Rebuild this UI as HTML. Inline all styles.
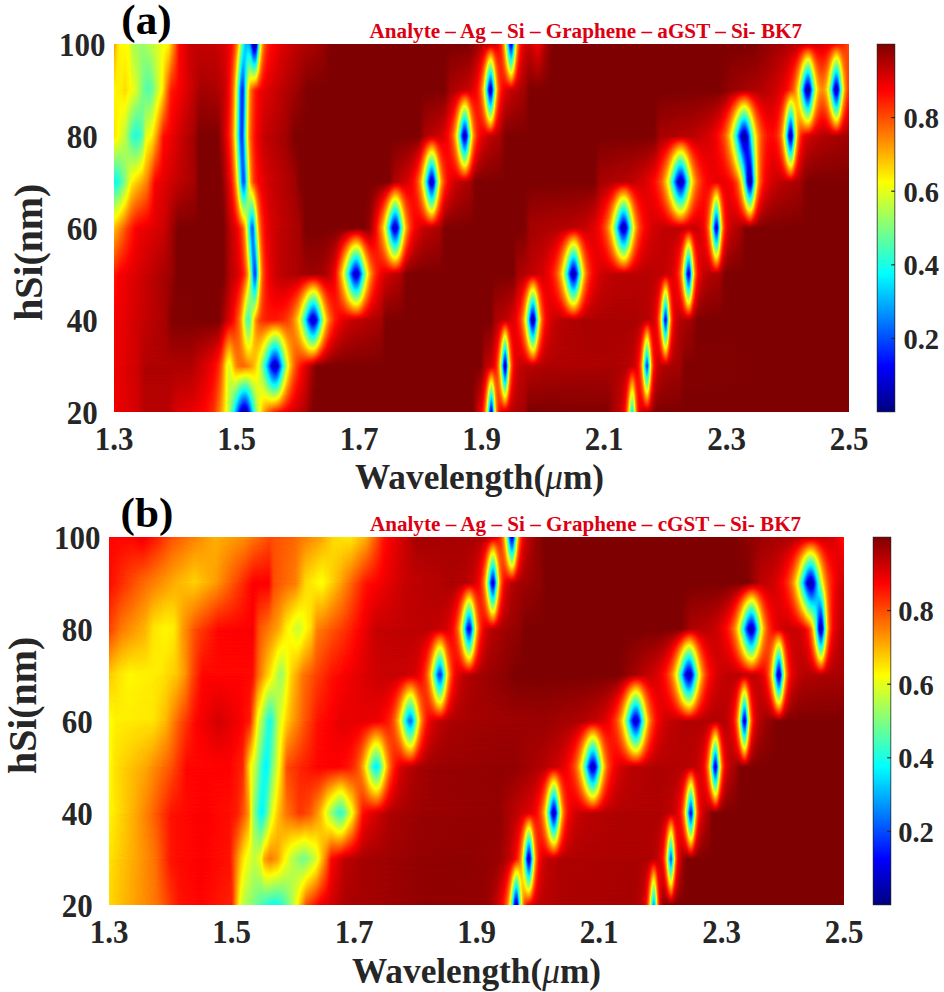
<!DOCTYPE html>
<html><head><meta charset="utf-8"><style>
html,body{margin:0;padding:0;background:#fff}
body{width:944px;height:992px;position:relative;overflow:hidden;font-family:"Liberation Serif",serif}
.pl{position:absolute;width:735px;height:368px;filter:url(#jet);overflow:hidden}
.bd{position:absolute;left:0;width:735px;height:46px}
.ov{position:absolute;left:0;top:0;width:100%;height:100%;-webkit-mask-image:linear-gradient(to bottom,#000,transparent);mask-image:linear-gradient(to bottom,#000,transparent)}
.cb{position:absolute;width:18px;height:368px;background:linear-gradient(to top,#000,#fff);filter:url(#jet)}
.a0{background:linear-gradient(to right,#e3e3e3 0px,#eaeaea 22.5px,#f1f1f1 31.5px,#f1f1f1 54.5px,#e9e9e9 62.5px,#e4e4e4 81.5px,#dedede 91.5px,#d6d6d6 98.5px,#d2d2d2 100.5px,#c0c0c0 105.5px,#b3b3b3 108.5px,#979797 113.5px,#8a8a8a 115.5px,#797979 117.5px,#666666 119.5px,#232323 125.5px,#1a1a1a 126.5px,#121212 127.5px,#0c0c0c 128.5px,#080808 129.5px,#070707 130.5px,#080808 131.5px,#0e0e0e 132.5px,#161616 133.5px,#212121 134.5px,#3b3b3b 136.5px,#646464 139.5px,#7b7b7b 141.5px,#8e8e8e 143.5px,#9d9d9d 145.5px,#afafaf 148.5px,#bdbdbd 151.5px,#cbcbcb 155.5px,#d7d7d7 160.5px,#dfdfdf 166.5px,#eaeaea 178.5px,#f3f3f3 191.5px,#ffffff 198.5px,#ffffff 358.5px,#f2f2f2 362.5px,#ebebeb 364.5px,#e5e5e5 366.5px,#e1e1e1 367.5px,#dbdbdb 368.5px,#d3d3d3 369.5px,#c8c8c8 370.5px,#b9b9b9 371.5px,#a4a4a4 372.5px,#888888 373.5px,#666666 374.5px,#404040 375.5px,#232323 376.5px,#191919 377.5px,#2d2d2d 378.5px,#828282 380.5px,#a3a3a3 381.5px,#bbbbbb 382.5px,#cbcbcb 383.5px,#d6d6d6 384.5px,#dddddd 385.5px,#e2e2e2 386.5px,#e9e9e9 388.5px,#eeeeee 391.5px,#f2f2f2 397.5px,#f6f6f6 410.5px,#f7f7f7 411.5px,#ffffff 414.5px,#fefefe 493.5px,#f3f3f3 501.5px,#efefef 505.5px,#ebebeb 507.5px,#e4e4e4 509.5px,#dfdfdf 510.5px,#d7d7d7 511.5px,#cdcdcd 512.5px,#bebebe 513.5px,#ababab 514.5px,#949494 515.5px,#7b7b7b 516.5px,#686868 517.5px,#636363 518.5px,#737373 519.5px,#acacac 521.5px,#c2c2c2 522.5px,#d2d2d2 523.5px,#dcdcdc 524.5px,#e3e3e3 525.5px,#e8e8e8 526.5px,#eeeeee 528.5px,#f2f2f2 531.5px,#f5f5f5 536.5px,#fefefe 541.5px,#ffffff 543.5px,#ffffff 735px)}
.a1{background:linear-gradient(to right,#e3e3e3 0px,#ebebeb 22.5px,#f3f3f3 31.5px,#f3f3f3 76.5px,#e9e9e9 90.5px,#e3e3e3 97.5px,#dddddd 101.5px,#d6d6d6 104.5px,#cecece 106.5px,#c2c2c2 108.5px,#a2a2a2 112.5px,#9c9c9c 113.5px,#989898 114.5px,#979797 115.5px,#9b9b9b 116.5px,#a8a8a8 118.5px,#b5b5b5 120.5px,#bebebe 122.5px,#c3c3c3 124.5px,#c6c6c6 127.5px,#c5c5c5 130.5px,#c0c0c0 134.5px,#b9b9b9 137.5px,#b0b0b0 140.5px,#a2a2a2 143.5px,#969696 145.5px,#878787 147.5px,#757575 149.5px,#606060 151.5px,#272727 156.5px,#1d1d1d 157.5px,#151515 158.5px,#0f0f0f 159.5px,#0c0c0c 160.5px,#0b0b0b 161.5px,#0e0e0e 162.5px,#161616 163.5px,#202020 164.5px,#2d2d2d 165.5px,#676767 169.5px,#818181 171.5px,#979797 173.5px,#a8a8a8 175.5px,#b6b6b6 177.5px,#c2c2c2 179.5px,#cfcfcf 182.5px,#dbdbdb 186.5px,#f6f6f6 198.5px,#fefefe 202.5px,#ffffff 204.5px,#ffffff 366.5px,#fafafa 368.5px,#f4f4f4 370.5px,#f1f1f1 372.5px,#ededed 376.5px,#e9e9e9 378.5px,#e2e2e2 380.5px,#dcdcdc 381.5px,#d5d5d5 382.5px,#cccccc 383.5px,#bfbfbf 384.5px,#adadad 385.5px,#959595 386.5px,#767676 387.5px,#2d2d2d 389.5px,#121212 390.5px,#0e0e0e 391.5px,#282828 392.5px,#7f7f7f 394.5px,#a1a1a1 395.5px,#b9b9b9 396.5px,#c9c9c9 397.5px,#d4d4d4 398.5px,#dcdcdc 399.5px,#e2e2e2 400.5px,#e8e8e8 402.5px,#ededed 405.5px,#f0f0f0 411.5px,#f3f3f3 431.5px,#f4f4f4 500.5px,#f2f2f2 513.5px,#efefef 518.5px,#e9e9e9 521.5px,#e2e2e2 523.5px,#dcdcdc 524.5px,#d5d5d5 525.5px,#cacaca 526.5px,#bbbbbb 527.5px,#a7a7a7 528.5px,#8c8c8c 529.5px,#4c4c4c 531.5px,#353535 532.5px,#343434 533.5px,#4e4e4e 534.5px,#757575 535.5px,#9a9a9a 536.5px,#b5b5b5 537.5px,#c9c9c9 538.5px,#d6d6d6 539.5px,#dedede 540.5px,#e4e4e4 541.5px,#e9e9e9 542.5px,#eeeeee 544.5px,#f2f2f2 548.5px,#f5f5f5 557.5px,#f6f6f6 565.5px,#f9f9f9 567.5px,#fefefe 570.5px,#ffffff 648.5px,#ffffff 735px)}
.a2{background:linear-gradient(to right,#e1e1e1 0px,#ededed 28.5px,#f5f5f5 51.5px,#fefefe 57.5px,#ffffff 87.5px,#ffffff 104.5px,#fcfcfc 106.5px,#e3e3e3 117.5px,#dadada 120.5px,#c8c8c8 124.5px,#c2c2c2 125.5px,#bbbbbb 126.5px,#b2b2b2 127.5px,#a8a8a8 128.5px,#848484 131.5px,#7a7a7a 132.5px,#727272 133.5px,#6f6f6f 134.5px,#737373 135.5px,#7d7d7d 136.5px,#a5a5a5 139.5px,#b0b0b0 140.5px,#b9b9b9 141.5px,#c0c0c0 142.5px,#cacaca 144.5px,#d1d1d1 146.5px,#d6d6d6 149.5px,#dadada 154.5px,#dadada 161.5px,#d6d6d6 168.5px,#d0d0d0 173.5px,#c9c9c9 176.5px,#bfbfbf 179.5px,#b6b6b6 181.5px,#ababab 183.5px,#9c9c9c 185.5px,#898989 187.5px,#737373 189.5px,#4b4b4b 192.5px,#303030 194.5px,#242424 195.5px,#1a1a1a 196.5px,#121212 197.5px,#0d0d0d 198.5px,#0c0c0c 199.5px,#0f0f0f 200.5px,#171717 201.5px,#222222 202.5px,#313131 203.5px,#727272 207.5px,#818181 208.5px,#8e8e8e 209.5px,#9a9a9a 210.5px,#a4a4a4 211.5px,#b6b6b6 213.5px,#c3c3c3 215.5px,#cccccc 217.5px,#d7d7d7 220.5px,#e0e0e0 224.5px,#e7e7e7 229.5px,#ededed 238.5px,#f3f3f3 257.5px,#f5f5f5 266.5px,#f8f8f8 268.5px,#ffffff 271.5px,#ffffff 376.5px,#fefefe 377.5px,#f6f6f6 380.5px,#f4f4f4 381.5px,#efefef 392.5px,#e8e8e8 398.5px,#e3e3e3 401.5px,#d9d9d9 404.5px,#d0d0d0 406.5px,#c9c9c9 407.5px,#c1c1c1 408.5px,#b7b7b7 409.5px,#ababab 410.5px,#9c9c9c 411.5px,#898989 412.5px,#747474 413.5px,#5b5b5b 414.5px,#282828 416.5px,#141414 417.5px,#090909 418.5px,#090909 419.5px,#191919 420.5px,#353535 421.5px,#545454 422.5px,#727272 423.5px,#8c8c8c 424.5px,#a2a2a2 425.5px,#b2b2b2 426.5px,#bfbfbf 427.5px,#cacaca 428.5px,#d1d1d1 429.5px,#d8d8d8 430.5px,#e0e0e0 432.5px,#e7e7e7 435.5px,#ececec 439.5px,#f1f1f1 447.5px,#f4f4f4 472.5px,#f4f4f4 519.5px,#f2f2f2 531.5px,#efefef 536.5px,#eaeaea 539.5px,#e3e3e3 541.5px,#dedede 542.5px,#d7d7d7 543.5px,#cdcdcd 544.5px,#c0c0c0 545.5px,#adadad 546.5px,#949494 547.5px,#747474 548.5px,#505050 549.5px,#2f2f2f 550.5px,#1e1e1e 551.5px,#292929 552.5px,#4e4e4e 553.5px,#7a7a7a 554.5px,#9e9e9e 555.5px,#b9b9b9 556.5px,#cbcbcb 557.5px,#d7d7d7 558.5px,#dfdfdf 559.5px,#e5e5e5 560.5px,#ececec 562.5px,#f1f1f1 565.5px,#f4f4f4 571.5px,#f6f6f6 576.5px,#ffffff 583.5px,#ffffff 735px)}
.a3{background:linear-gradient(to right,#d9d9d9 0px,#e1e1e1 6.5px,#f8f8f8 57.5px,#ffffff 62.5px,#ffffff 109.5px,#f1f1f1 116.5px,#ebebeb 122.5px,#e3e3e3 126.5px,#dddddd 128.5px,#d4d4d4 130.5px,#cdcdcd 131.5px,#c5c5c5 132.5px,#bbbbbb 133.5px,#adadad 134.5px,#9c9c9c 135.5px,#878787 136.5px,#6e6e6e 137.5px,#545454 138.5px,#3e3e3e 139.5px,#303030 140.5px,#313131 141.5px,#444444 142.5px,#7f7f7f 144.5px,#989898 145.5px,#acacac 146.5px,#bbbbbb 147.5px,#c6c6c6 148.5px,#cecece 149.5px,#d8d8d8 151.5px,#dedede 153.5px,#e5e5e5 156.5px,#ececec 162.5px,#f0f0f0 168.5px,#f8f8f8 196.5px,#f7f7f7 205.5px,#f4f4f4 211.5px,#eeeeee 215.5px,#e8e8e8 218.5px,#e2e2e2 220.5px,#dedede 221.5px,#cacaca 224.5px,#b9b9b9 226.5px,#a6a6a6 228.5px,#909090 230.5px,#777777 232.5px,#4d4d4d 235.5px,#313131 237.5px,#242424 238.5px,#1a1a1a 239.5px,#121212 240.5px,#0d0d0d 241.5px,#0c0c0c 242.5px,#101010 243.5px,#181818 244.5px,#252525 245.5px,#343434 246.5px,#666666 249.5px,#767676 250.5px,#858585 251.5px,#929292 252.5px,#9d9d9d 253.5px,#b1b1b1 255.5px,#c0c0c0 257.5px,#cbcbcb 259.5px,#d7d7d7 262.5px,#dfdfdf 265.5px,#e8e8e8 270.5px,#eeeeee 277.5px,#f2f2f2 285.5px,#f7f7f7 288.5px,#ffffff 292.5px,#ffffff 399.5px,#f5f5f5 403.5px,#f4f4f4 405.5px,#eeeeee 421.5px,#e9e9e9 429.5px,#e2e2e2 434.5px,#dadada 438.5px,#d0d0d0 441.5px,#c7c7c7 443.5px,#bababa 445.5px,#aaaaaa 447.5px,#9f9f9f 448.5px,#949494 449.5px,#878787 450.5px,#787878 451.5px,#565656 453.5px,#323232 455.5px,#222222 456.5px,#141414 457.5px,#0b0b0b 458.5px,#070707 459.5px,#0a0a0a 460.5px,#141414 461.5px,#242424 462.5px,#383838 463.5px,#646464 465.5px,#777777 466.5px,#898989 467.5px,#999999 468.5px,#a6a6a6 469.5px,#b1b1b1 470.5px,#bbbbbb 471.5px,#c3c3c3 472.5px,#cfcfcf 474.5px,#d8d8d8 476.5px,#e0e0e0 479.5px,#e7e7e7 483.5px,#ececec 489.5px,#f0f0f0 501.5px,#f1f1f1 532.5px,#efefef 549.5px,#ececec 555.5px,#e7e7e7 559.5px,#e2e2e2 561.5px,#dadada 563.5px,#d5d5d5 564.5px,#cecece 565.5px,#c4c4c4 566.5px,#b7b7b7 567.5px,#a7a7a7 568.5px,#929292 569.5px,#777777 570.5px,#3a3a3a 572.5px,#202020 573.5px,#141414 574.5px,#1c1c1c 575.5px,#393939 576.5px,#5e5e5e 577.5px,#828282 578.5px,#9f9f9f 579.5px,#b5b5b5 580.5px,#c5c5c5 581.5px,#d0d0d0 582.5px,#d9d9d9 583.5px,#dfdfdf 584.5px,#e7e7e7 586.5px,#ededed 589.5px,#f2f2f2 594.5px,#f5f5f5 605.5px,#fafafa 608.5px,#fefefe 610.5px,#ffffff 612.5px,#ffffff 735px)}
.a4{background:linear-gradient(to right,#afafaf 0px,#d2d2d2 14.5px,#dfdfdf 21.5px,#e2e2e2 25.5px,#ebebeb 49.5px,#f7f7f7 58.5px,#ffffff 63.5px,#ffffff 109.5px,#efefef 116.5px,#e7e7e7 121.5px,#dedede 124.5px,#d6d6d6 126.5px,#d1d1d1 127.5px,#cbcbcb 128.5px,#c3c3c3 129.5px,#b9b9b9 130.5px,#acacac 131.5px,#9c9c9c 132.5px,#898989 133.5px,#5d5d5d 135.5px,#494949 136.5px,#3c3c3c 137.5px,#383838 138.5px,#434343 139.5px,#595959 140.5px,#747474 141.5px,#8c8c8c 142.5px,#a1a1a1 143.5px,#b2b2b2 144.5px,#bfbfbf 145.5px,#c8c8c8 146.5px,#d0d0d0 147.5px,#d5d5d5 148.5px,#dddddd 150.5px,#e4e4e4 153.5px,#e9e9e9 157.5px,#efefef 167.5px,#f5f5f5 185.5px,#fafafa 188.5px,#ffffff 191.5px,#ffffff 250.5px,#f9f9f9 255.5px,#f3f3f3 257.5px,#e6e6e6 260.5px,#d7d7d7 263.5px,#bbbbbb 267.5px,#b3b3b3 268.5px,#a9a9a9 269.5px,#9e9e9e 270.5px,#929292 271.5px,#848484 272.5px,#747474 273.5px,#2f2f2f 277.5px,#202020 278.5px,#151515 279.5px,#0e0e0e 280.5px,#0c0c0c 281.5px,#121212 282.5px,#1e1e1e 283.5px,#2f2f2f 284.5px,#6d6d6d 287.5px,#808080 288.5px,#919191 289.5px,#9f9f9f 290.5px,#ababab 291.5px,#b6b6b6 292.5px,#bebebe 293.5px,#cccccc 295.5px,#d6d6d6 297.5px,#e0e0e0 300.5px,#e7e7e7 304.5px,#eeeeee 310.5px,#f3f3f3 321.5px,#f4f4f4 325.5px,#f8f8f8 327.5px,#ffffff 330.5px,#ffffff 410.5px,#fcfcfc 412.5px,#f6f6f6 415.5px,#f5f5f5 417.5px,#f1f1f1 457.5px,#ededed 471.5px,#e7e7e7 479.5px,#e0e0e0 484.5px,#d6d6d6 488.5px,#cbcbcb 491.5px,#c1c1c1 493.5px,#b3b3b3 495.5px,#a2a2a2 497.5px,#979797 498.5px,#8b8b8b 499.5px,#7e7e7e 500.5px,#5f5f5f 502.5px,#2e2e2e 505.5px,#1f1f1f 506.5px,#141414 507.5px,#0b0b0b 508.5px,#070707 509.5px,#090909 510.5px,#111111 511.5px,#1f1f1f 512.5px,#303030 513.5px,#6b6b6b 516.5px,#7d7d7d 517.5px,#8d8d8d 518.5px,#9b9b9b 519.5px,#a7a7a7 520.5px,#b1b1b1 521.5px,#bababa 522.5px,#c8c8c8 524.5px,#d2d2d2 526.5px,#dcdcdc 529.5px,#e4e4e4 533.5px,#eaeaea 539.5px,#eeeeee 549.5px,#f0f0f0 568.5px,#eeeeee 579.5px,#ebebeb 584.5px,#e6e6e6 587.5px,#e2e2e2 589.5px,#dadada 591.5px,#d4d4d4 592.5px,#cccccc 593.5px,#c2c2c2 594.5px,#b5b5b5 595.5px,#a3a3a3 596.5px,#8d8d8d 597.5px,#727272 598.5px,#343434 600.5px,#1c1c1c 601.5px,#131313 602.5px,#202020 603.5px,#404040 604.5px,#666666 605.5px,#898989 606.5px,#a4a4a4 607.5px,#b9b9b9 608.5px,#c8c8c8 609.5px,#d3d3d3 610.5px,#dbdbdb 611.5px,#e0e0e0 612.5px,#e8e8e8 614.5px,#eeeeee 617.5px,#f2f2f2 622.5px,#f5f5f5 626.5px,#ffffff 631.5px,#ffffff 735px)}
.a5{background:linear-gradient(to right,#626262 0px,#656565 3.5px,#6b6b6b 5.5px,#7e7e7e 10.5px,#888888 12.5px,#9e9e9e 16.5px,#a2a2a2 17.5px,#bebebe 32.5px,#c5c5c5 34.5px,#dedede 40.5px,#e1e1e1 41.5px,#f0f0f0 66.5px,#f6f6f6 80.5px,#fafafa 82.5px,#ffffff 84.5px,#ffffff 106.5px,#fcfcfc 108.5px,#f0f0f0 112.5px,#e4e4e4 115.5px,#dbdbdb 117.5px,#d5d5d5 118.5px,#cecece 119.5px,#c5c5c5 120.5px,#bababa 121.5px,#adadad 122.5px,#9e9e9e 123.5px,#8b8b8b 124.5px,#606060 126.5px,#4b4b4b 127.5px,#3b3b3b 128.5px,#343434 129.5px,#393939 130.5px,#4a4a4a 131.5px,#7c7c7c 133.5px,#939393 134.5px,#a6a6a6 135.5px,#b5b5b5 136.5px,#c0c0c0 137.5px,#c8c8c8 138.5px,#cfcfcf 139.5px,#d7d7d7 141.5px,#dfdfdf 144.5px,#e5e5e5 148.5px,#ececec 157.5px,#f6f6f6 180.5px,#fcfcfc 184.5px,#fefefe 185.5px,#ffffff 196.5px,#ffffff 274.5px,#fefefe 275.5px,#f4f4f4 280.5px,#f1f1f1 284.5px,#eaeaea 292.5px,#e4e4e4 296.5px,#dddddd 299.5px,#d6d6d6 301.5px,#cdcdcd 303.5px,#bfbfbf 305.5px,#b7b7b7 306.5px,#acacac 307.5px,#a0a0a0 308.5px,#929292 309.5px,#828282 310.5px,#6f6f6f 311.5px,#323232 314.5px,#202020 315.5px,#131313 316.5px,#0c0c0c 317.5px,#0f0f0f 318.5px,#1c1c1c 319.5px,#303030 320.5px,#626262 322.5px,#7a7a7a 323.5px,#8e8e8e 324.5px,#9f9f9f 325.5px,#aeaeae 326.5px,#b9b9b9 327.5px,#c2c2c2 328.5px,#cacaca 329.5px,#d5d5d5 331.5px,#dddddd 333.5px,#e4e4e4 336.5px,#ececec 341.5px,#f2f2f2 350.5px,#f4f4f4 355.5px,#f9f9f9 358.5px,#ffffff 361.5px,#ffffff 480.5px,#f6f6f6 485.5px,#f5f5f5 487.5px,#f0f0f0 516.5px,#eaeaea 528.5px,#e4e4e4 535.5px,#dddddd 540.5px,#d3d3d3 544.5px,#c8c8c8 547.5px,#bdbdbd 549.5px,#b0b0b0 551.5px,#a0a0a0 553.5px,#8b8b8b 555.5px,#727272 557.5px,#555555 559.5px,#373737 561.5px,#282828 562.5px,#1c1c1c 563.5px,#111111 564.5px,#0a0a0a 565.5px,#070707 566.5px,#080808 567.5px,#0f0f0f 568.5px,#1b1b1b 569.5px,#2a2a2a 570.5px,#5f5f5f 573.5px,#707070 574.5px,#808080 575.5px,#8e8e8e 576.5px,#9a9a9a 577.5px,#a5a5a5 578.5px,#aeaeae 579.5px,#bcbcbc 581.5px,#c7c7c7 583.5px,#d2d2d2 586.5px,#dadada 589.5px,#e1e1e1 594.5px,#e5e5e5 601.5px,#e5e5e5 609.5px,#e2e2e2 614.5px,#dcdcdc 618.5px,#d6d6d6 620.5px,#cecece 622.5px,#c9c9c9 623.5px,#c2c2c2 624.5px,#b9b9b9 625.5px,#afafaf 626.5px,#a3a3a3 627.5px,#939393 628.5px,#818181 629.5px,#6c6c6c 630.5px,#3b3b3b 632.5px,#242424 633.5px,#121212 634.5px,#080808 635.5px,#080808 636.5px,#171717 637.5px,#303030 638.5px,#6a6a6a 640.5px,#848484 641.5px,#999999 642.5px,#aaaaaa 643.5px,#b8b8b8 644.5px,#c2c2c2 645.5px,#cbcbcb 646.5px,#d1d1d1 647.5px,#dbdbdb 649.5px,#e3e3e3 652.5px,#eaeaea 657.5px,#efefef 665.5px,#f6f6f6 686.5px,#fefefe 691.5px,#ffffff 696.5px,#ffffff 735px)}
.a6{background:linear-gradient(to right,#a7a7a7 0px,#9d9d9d 5.5px,#8d8d8d 11.5px,#8a8a8a 12.5px,#757575 16.5px,#717171 17.5px,#676767 21.5px,#676767 22.5px,#727272 27.5px,#777777 28.5px,#949494 31.5px,#9a9a9a 32.5px,#a2a2a2 37.5px,#a5a5a5 38.5px,#c2c2c2 44.5px,#d8d8d8 48.5px,#dcdcdc 49.5px,#eeeeee 69.5px,#f6f6f6 80.5px,#ffffff 84.5px,#ffffff 103.5px,#fbfbfb 105.5px,#ececec 110.5px,#dcdcdc 114.5px,#d1d1d1 116.5px,#cacaca 117.5px,#c1c1c1 118.5px,#b6b6b6 119.5px,#a9a9a9 120.5px,#999999 121.5px,#878787 122.5px,#484848 125.5px,#383838 126.5px,#303030 127.5px,#333333 128.5px,#434343 129.5px,#5b5b5b 130.5px,#757575 131.5px,#8d8d8d 132.5px,#a1a1a1 133.5px,#b1b1b1 134.5px,#bdbdbd 135.5px,#c7c7c7 136.5px,#cecece 137.5px,#d3d3d3 138.5px,#dbdbdb 140.5px,#e3e3e3 143.5px,#ebebeb 148.5px,#efefef 153.5px,#f6f6f6 171.5px,#ffffff 180.5px,#ffffff 305.5px,#f5f5f5 310.5px,#f3f3f3 313.5px,#ededed 324.5px,#e8e8e8 329.5px,#e2e2e2 332.5px,#d9d9d9 335.5px,#d0d0d0 337.5px,#cacaca 338.5px,#c3c3c3 339.5px,#bababa 340.5px,#afafaf 341.5px,#a2a2a2 342.5px,#929292 343.5px,#808080 344.5px,#6b6b6b 345.5px,#3c3c3c 347.5px,#262626 348.5px,#161616 349.5px,#0d0d0d 350.5px,#0f0f0f 351.5px,#1d1d1d 352.5px,#363636 353.5px,#6d6d6d 355.5px,#868686 356.5px,#9b9b9b 357.5px,#ababab 358.5px,#b9b9b9 359.5px,#c3c3c3 360.5px,#cbcbcb 361.5px,#d2d2d2 362.5px,#dbdbdb 364.5px,#e4e4e4 367.5px,#ebebeb 371.5px,#f1f1f1 378.5px,#f4f4f4 385.5px,#fbfbfb 389.5px,#ffffff 391.5px,#ffffff 540.5px,#fafafa 543.5px,#f6f6f6 545.5px,#f5f5f5 547.5px,#f1f1f1 578.5px,#ebebeb 591.5px,#e6e6e6 598.5px,#dedede 603.5px,#d5d5d5 607.5px,#cbcbcb 610.5px,#c1c1c1 612.5px,#b5b5b5 614.5px,#a5a5a5 616.5px,#919191 618.5px,#797979 620.5px,#5c5c5c 622.5px,#2e2e2e 625.5px,#202020 626.5px,#141414 627.5px,#0b0b0b 628.5px,#060606 629.5px,#040404 630.5px,#080808 631.5px,#121212 632.5px,#202020 633.5px,#313131 634.5px,#686868 637.5px,#787878 638.5px,#878787 639.5px,#959595 640.5px,#a1a1a1 641.5px,#ababab 642.5px,#b3b3b3 643.5px,#c1c1c1 645.5px,#cbcbcb 647.5px,#d5d5d5 650.5px,#dbdbdb 653.5px,#dddddd 656.5px,#dddddd 659.5px,#d8d8d8 662.5px,#d1d1d1 664.5px,#cccccc 665.5px,#c5c5c5 666.5px,#bcbcbc 667.5px,#b1b1b1 668.5px,#a3a3a3 669.5px,#919191 670.5px,#7b7b7b 671.5px,#616161 672.5px,#292929 674.5px,#131313 675.5px,#0a0a0a 676.5px,#101010 677.5px,#282828 678.5px,#6c6c6c 680.5px,#8a8a8a 681.5px,#a1a1a1 682.5px,#b4b4b4 683.5px,#c1c1c1 684.5px,#cccccc 685.5px,#d4d4d4 686.5px,#d9d9d9 687.5px,#e1e1e1 689.5px,#e8e8e8 692.5px,#ededed 697.5px,#f2f2f2 708.5px,#f7f7f7 735px)}
.a7{background:linear-gradient(to right,#a1a1a1 0px,#a4a4a4 7.5px,#a8a8a8 10.5px,#a8a8a8 11.5px,#a0a0a0 16.5px,#959595 22.5px,#8b8b8b 25.5px,#7c7c7c 29.5px,#787878 31.5px,#737373 34.5px,#747474 35.5px,#7c7c7c 38.5px,#949494 44.5px,#9f9f9f 47.5px,#a4a4a4 48.5px,#bfbfbf 52.5px,#d6d6d6 56.5px,#d9d9d9 57.5px,#ececec 77.5px,#f6f6f6 86.5px,#f4f4f4 101.5px,#efefef 108.5px,#ebebeb 111.5px,#e1e1e1 114.5px,#d8d8d8 116.5px,#d1d1d1 117.5px,#cacaca 118.5px,#c0c0c0 119.5px,#b4b4b4 120.5px,#a6a6a6 121.5px,#949494 122.5px,#808080 123.5px,#525252 125.5px,#3d3d3d 126.5px,#2f2f2f 127.5px,#2b2b2b 128.5px,#343434 129.5px,#494949 130.5px,#7d7d7d 132.5px,#949494 133.5px,#a6a6a6 134.5px,#b4b4b4 135.5px,#bfbfbf 136.5px,#c7c7c7 137.5px,#d1d1d1 139.5px,#d9d9d9 141.5px,#dfdfdf 144.5px,#e5e5e5 149.5px,#f0f0f0 168.5px,#f7f7f7 182.5px,#ffffff 193.5px,#ffffff 330.5px,#fafafa 333.5px,#f5f5f5 336.5px,#efefef 350.5px,#ebebeb 356.5px,#e4e4e4 360.5px,#dfdfdf 362.5px,#d7d7d7 364.5px,#d1d1d1 365.5px,#cacaca 366.5px,#c1c1c1 367.5px,#b6b6b6 368.5px,#a8a8a8 369.5px,#959595 370.5px,#7f7f7f 371.5px,#646464 372.5px,#2b2b2b 374.5px,#151515 375.5px,#0c0c0c 376.5px,#151515 377.5px,#2f2f2f 378.5px,#747474 380.5px,#919191 381.5px,#a7a7a7 382.5px,#b8b8b8 383.5px,#c5c5c5 384.5px,#cecece 385.5px,#d5d5d5 386.5px,#dbdbdb 387.5px,#e2e2e2 389.5px,#e9e9e9 392.5px,#eeeeee 397.5px,#f6f6f6 410.5px,#ffffff 415.5px,#ffffff 605.5px,#f9f9f9 617.5px,#f1f1f1 651.5px,#ebebeb 662.5px,#e4e4e4 669.5px,#dddddd 673.5px,#d4d4d4 676.5px,#cdcdcd 678.5px,#c2c2c2 680.5px,#bbbbbb 681.5px,#b2b2b2 682.5px,#a8a8a8 683.5px,#9c9c9c 684.5px,#8e8e8e 685.5px,#7e7e7e 686.5px,#6b6b6b 687.5px,#2c2c2c 690.5px,#191919 691.5px,#0b0b0b 692.5px,#040404 693.5px,#050505 694.5px,#101010 695.5px,#242424 696.5px,#555555 698.5px,#6c6c6c 699.5px,#808080 700.5px,#909090 701.5px,#9d9d9d 702.5px,#a8a8a8 703.5px,#afafaf 704.5px,#b5b5b5 705.5px,#b9b9b9 706.5px,#bababa 707.5px,#bbbbbb 708.5px,#b9b9b9 709.5px,#b6b6b6 710.5px,#b1b1b1 711.5px,#ababab 712.5px,#a1a1a1 713.5px,#959595 714.5px,#868686 715.5px,#747474 716.5px,#5f5f5f 717.5px,#303030 719.5px,#1b1b1b 720.5px,#0d0d0d 721.5px,#080808 722.5px,#101010 723.5px,#252525 724.5px,#414141 725.5px,#5e5e5e 726.5px,#797979 727.5px,#909090 728.5px,#a2a2a2 729.5px,#b1b1b1 730.5px,#bcbcbc 731.5px,#c5c5c5 732.5px,#cccccc 733.5px,#d1d1d1 735px)}
.a8{background:linear-gradient(to right,#b9b9b9 0px,#acacac 2.5px,#a7a7a7 3.5px,#a2a2a2 5.5px,#a0a0a0 7.5px,#9e9e9e 14.5px,#9b9b9b 15.5px,#8f8f8f 17.5px,#8c8c8c 18.5px,#858585 27.5px,#868686 29.5px,#929292 39.5px,#a2a2a2 54.5px,#a6a6a6 55.5px,#c8c8c8 61.5px,#dadada 64.5px,#dedede 65.5px,#ededed 76.5px,#ededed 100.5px,#eaeaea 108.5px,#e6e6e6 113.5px,#e0e0e0 116.5px,#dadada 118.5px,#d1d1d1 120.5px,#cbcbcb 121.5px,#c3c3c3 122.5px,#b9b9b9 123.5px,#aeaeae 124.5px,#a1a1a1 125.5px,#828282 127.5px,#727272 128.5px,#636363 129.5px,#585858 130.5px,#505050 131.5px,#4e4e4e 132.5px,#4e4e4e 133.5px,#4c4c4c 134.5px,#464646 135.5px,#3a3a3a 136.5px,#292929 137.5px,#141414 138.5px,#010101 139.5px,#000000 141.5px,#151515 142.5px,#5c5c5c 144.5px,#7c7c7c 145.5px,#959595 146.5px,#a8a8a8 147.5px,#b6b6b6 148.5px,#c0c0c0 149.5px,#c8c8c8 150.5px,#cecece 151.5px,#d6d6d6 153.5px,#dcdcdc 156.5px,#e6e6e6 166.5px,#efefef 182.5px,#f8f8f8 208.5px,#ffffff 216.5px,#ffffff 355.5px,#f4f4f4 366.5px,#f1f1f1 375.5px,#ececec 380.5px,#e5e5e5 383.5px,#dddddd 385.5px,#d8d8d8 386.5px,#d1d1d1 387.5px,#c8c8c8 388.5px,#bcbcbc 389.5px,#adadad 390.5px,#999999 391.5px,#818181 392.5px,#666666 393.5px,#484848 394.5px,#2e2e2e 395.5px,#1c1c1c 396.5px,#191919 397.5px,#2a2a2a 398.5px,#4a4a4a 399.5px,#6d6d6d 400.5px,#8d8d8d 401.5px,#a6a6a6 402.5px,#b9b9b9 403.5px,#c7c7c7 404.5px,#d2d2d2 405.5px,#d9d9d9 406.5px,#dfdfdf 407.5px,#e6e6e6 409.5px,#ebebeb 412.5px,#ececec 415.5px,#e9e9e9 418.5px,#e3e3e3 422.5px,#e3e3e3 424.5px,#e7e7e7 426.5px,#f2f2f2 430.5px,#fbfbfb 435.5px,#ffffff 438.5px,#ffffff 640.5px,#f7f7f7 659.5px,#eeeeee 695.5px,#e6e6e6 714.5px,#dfdfdf 723.5px,#d7d7d7 729.5px,#cecece 733.5px,#cccccc 735px)}
.b0{background:linear-gradient(to right,#a9a9a9 0px,#b0b0b0 11.5px,#c2c2c2 46.5px,#dbdbdb 70.5px,#dfdfdf 92.5px,#d8d8d8 120.5px,#d7d7d7 122.5px,#d3d3d3 123.5px,#a7a7a7 129.5px,#9b9b9b 131.5px,#919191 133.5px,#8e8e8e 134.5px,#808080 144.5px,#6d6d6d 155.5px,#656565 161.5px,#636363 165.5px,#656565 168.5px,#6c6c6c 173.5px,#797979 177.5px,#898989 182.5px,#9c9c9c 187.5px,#c9c9c9 196.5px,#cdcdcd 197.5px,#e4e4e4 211.5px,#f4f4f4 235.5px,#fbfbfb 316.5px,#fafafa 372.5px,#f7f7f7 381.5px,#eeeeee 387.5px,#e5e5e5 391.5px,#dedede 393.5px,#d5d5d5 395.5px,#c8c8c8 397.5px,#bfbfbf 398.5px,#b4b4b4 399.5px,#a5a5a5 400.5px,#929292 401.5px,#7a7a7a 402.5px,#5e5e5e 403.5px,#404040 404.5px,#242424 405.5px,#111111 406.5px,#0c0c0c 407.5px,#1c1c1c 408.5px,#3c3c3c 409.5px,#606060 410.5px,#818181 411.5px,#9c9c9c 412.5px,#b1b1b1 413.5px,#c0c0c0 414.5px,#cccccc 415.5px,#d4d4d4 416.5px,#dbdbdb 417.5px,#e3e3e3 419.5px,#e8e8e8 421.5px,#ededed 425.5px,#f1f1f1 433.5px,#f4f4f4 454.5px,#f5f5f5 500.5px,#f6f6f6 522.5px,#f3f3f3 529.5px,#eeeeee 533.5px,#e8e8e8 535.5px,#e3e3e3 536.5px,#dbdbdb 537.5px,#d1d1d1 538.5px,#c2c2c2 539.5px,#aeaeae 540.5px,#949494 541.5px,#757575 542.5px,#595959 543.5px,#494949 544.5px,#505050 545.5px,#6e6e6e 546.5px,#949494 547.5px,#b5b5b5 548.5px,#cdcdcd 549.5px,#dddddd 550.5px,#e9e9e9 551.5px,#f1f1f1 552.5px,#f7f7f7 553.5px,#fefefe 555.5px,#ffffff 557.5px,#ffffff 735px)}
.b1{background:linear-gradient(to right,#a6a6a6 0px,#adadad 11.5px,#b8b8b8 30.5px,#c3c3c3 46.5px,#dadada 61.5px,#dcdcdc 67.5px,#e0e0e0 92.5px,#dbdbdb 120.5px,#d9d9d9 121.5px,#b0b0b0 131.5px,#a2a2a2 135.5px,#9e9e9e 137.5px,#919191 144.5px,#919191 145.5px,#9c9c9c 151.5px,#a1a1a1 152.5px,#b2b2b2 154.5px,#b7b7b7 155.5px,#c0c0c0 160.5px,#c1c1c1 161.5px,#b8b8b8 168.5px,#b2b2b2 170.5px,#a5a5a5 174.5px,#909090 182.5px,#808080 191.5px,#7d7d7d 194.5px,#7e7e7e 196.5px,#848484 199.5px,#919191 205.5px,#939393 206.5px,#969696 207.5px,#b7b7b7 214.5px,#c4c4c4 217.5px,#dadada 221.5px,#dedede 222.5px,#efefef 235.5px,#f5f5f5 253.5px,#fafafa 315.5px,#fbfbfb 357.5px,#f9f9f9 388.5px,#f7f7f7 392.5px,#f0f0f0 399.5px,#e9e9e9 403.5px,#e0e0e0 406.5px,#d8d8d8 408.5px,#d2d2d2 409.5px,#cacaca 410.5px,#c0c0c0 411.5px,#b3b3b3 412.5px,#a3a3a3 413.5px,#8e8e8e 414.5px,#747474 415.5px,#383838 417.5px,#1e1e1e 418.5px,#0e0e0e 419.5px,#0f0f0f 420.5px,#252525 421.5px,#474747 422.5px,#6c6c6c 423.5px,#8b8b8b 424.5px,#a5a5a5 425.5px,#b8b8b8 426.5px,#c6c6c6 427.5px,#d0d0d0 428.5px,#d8d8d8 429.5px,#dddddd 430.5px,#e5e5e5 432.5px,#ebebeb 435.5px,#efefef 440.5px,#f3f3f3 452.5px,#f4f4f4 523.5px,#f3f3f3 542.5px,#f0f0f0 547.5px,#eaeaea 550.5px,#e3e3e3 552.5px,#dedede 553.5px,#d6d6d6 554.5px,#cbcbcb 555.5px,#bcbcbc 556.5px,#a8a8a8 557.5px,#8d8d8d 558.5px,#4e4e4e 560.5px,#393939 561.5px,#3b3b3b 562.5px,#575757 563.5px,#7e7e7e 564.5px,#a1a1a1 565.5px,#bbbbbb 566.5px,#cdcdcd 567.5px,#dadada 568.5px,#e2e2e2 569.5px,#ededed 571.5px,#f5f5f5 573.5px,#fdfdfd 576.5px,#ffffff 577.5px,#ffffff 735px)}
.b2{background:linear-gradient(to right,#a1a1a1 0px,#b5b5b5 26.5px,#c4c4c4 42.5px,#dbdbdb 62.5px,#e0e0e0 93.5px,#dcdcdc 120.5px,#d9d9d9 127.5px,#d4d4d4 130.5px,#c8c8c8 135.5px,#bababa 139.5px,#b2b2b2 140.5px,#8f8f8f 143.5px,#878787 144.5px,#767676 147.5px,#656565 150.5px,#616161 151.5px,#5f5f5f 152.5px,#5f5f5f 153.5px,#626262 154.5px,#676767 155.5px,#8f8f8f 161.5px,#9e9e9e 164.5px,#adadad 168.5px,#bcbcbc 174.5px,#c2c2c2 177.5px,#d2d2d2 190.5px,#d1d1d1 193.5px,#cacaca 201.5px,#bababa 208.5px,#b2b2b2 211.5px,#9d9d9d 216.5px,#939393 218.5px,#7e7e7e 224.5px,#727272 227.5px,#6d6d6d 229.5px,#6b6b6b 231.5px,#6c6c6c 232.5px,#6e6e6e 233.5px,#777777 235.5px,#929292 240.5px,#9b9b9b 242.5px,#a0a0a0 243.5px,#b9b9b9 247.5px,#d5d5d5 252.5px,#dadada 253.5px,#dddddd 254.5px,#e6e6e6 262.5px,#f3f3f3 280.5px,#f8f8f8 311.5px,#fafafa 389.5px,#ececec 412.5px,#e8e8e8 420.5px,#e2e2e2 425.5px,#dbdbdb 428.5px,#d3d3d3 430.5px,#c9c9c9 432.5px,#c1c1c1 433.5px,#b8b8b8 434.5px,#aeaeae 435.5px,#a1a1a1 436.5px,#919191 437.5px,#7f7f7f 438.5px,#6a6a6a 439.5px,#3d3d3d 441.5px,#272727 442.5px,#161616 443.5px,#0d0d0d 444.5px,#0e0e0e 445.5px,#1b1b1b 446.5px,#323232 447.5px,#686868 449.5px,#818181 450.5px,#979797 451.5px,#a8a8a8 452.5px,#b6b6b6 453.5px,#c1c1c1 454.5px,#cacaca 455.5px,#d1d1d1 456.5px,#dbdbdb 458.5px,#e1e1e1 460.5px,#e7e7e7 463.5px,#ececec 468.5px,#f0f0f0 478.5px,#f3f3f3 513.5px,#f3f3f3 551.5px,#f0f0f0 561.5px,#ececec 565.5px,#e6e6e6 568.5px,#dfdfdf 570.5px,#dadada 571.5px,#d4d4d4 572.5px,#cbcbcb 573.5px,#c0c0c0 574.5px,#b1b1b1 575.5px,#9d9d9d 576.5px,#858585 577.5px,#696969 578.5px,#4a4a4a 579.5px,#303030 580.5px,#212121 581.5px,#252525 582.5px,#3d3d3d 583.5px,#848484 585.5px,#a1a1a1 586.5px,#b7b7b7 587.5px,#c8c8c8 588.5px,#d3d3d3 589.5px,#dcdcdc 590.5px,#e2e2e2 591.5px,#eaeaea 593.5px,#f1f1f1 596.5px,#f5f5f5 599.5px,#ffffff 603.5px,#ffffff 735px)}
.b3{background:linear-gradient(to right,#9f9f9f 0px,#a7a7a7 6.5px,#b6b6b6 37.5px,#cacaca 61.5px,#dedede 77.5px,#dfdfdf 120.5px,#d8d8d8 131.5px,#d6d6d6 133.5px,#d2d2d2 134.5px,#a7a7a7 140.5px,#a1a1a1 141.5px,#929292 145.5px,#646464 154.5px,#616161 155.5px,#5f5f5f 156.5px,#5f5f5f 157.5px,#626262 158.5px,#666666 159.5px,#7f7f7f 163.5px,#8d8d8d 166.5px,#9d9d9d 169.5px,#a7a7a7 171.5px,#cacaca 177.5px,#cdcdcd 178.5px,#d6d6d6 191.5px,#dfdfdf 209.5px,#e0e0e0 227.5px,#dddddd 236.5px,#d8d8d8 242.5px,#d1d1d1 246.5px,#c9c9c9 249.5px,#c2c2c2 251.5px,#b2b2b2 254.5px,#9d9d9d 257.5px,#737373 262.5px,#656565 264.5px,#606060 265.5px,#5d5d5d 266.5px,#5c5c5c 267.5px,#5d5d5d 268.5px,#626262 269.5px,#686868 270.5px,#717171 271.5px,#9a9a9a 275.5px,#adadad 277.5px,#bcbcbc 279.5px,#c8c8c8 281.5px,#d6d6d6 284.5px,#dfdfdf 287.5px,#e8e8e8 291.5px,#efefef 298.5px,#f5f5f5 310.5px,#f8f8f8 326.5px,#fafafa 404.5px,#f2f2f2 434.5px,#ececec 447.5px,#e5e5e5 455.5px,#dedede 459.5px,#d7d7d7 462.5px,#cdcdcd 465.5px,#c3c3c3 467.5px,#b6b6b6 469.5px,#a5a5a5 471.5px,#9b9b9b 472.5px,#909090 473.5px,#838383 474.5px,#666666 476.5px,#353535 479.5px,#262626 480.5px,#1a1a1a 481.5px,#111111 482.5px,#0d0d0d 483.5px,#0d0d0d 484.5px,#141414 485.5px,#202020 486.5px,#313131 487.5px,#6a6a6a 490.5px,#7c7c7c 491.5px,#8c8c8c 492.5px,#9a9a9a 493.5px,#a6a6a6 494.5px,#b1b1b1 495.5px,#bababa 496.5px,#c8c8c8 498.5px,#d2d2d2 500.5px,#dcdcdc 503.5px,#e5e5e5 507.5px,#ebebeb 513.5px,#f0f0f0 523.5px,#f3f3f3 547.5px,#f2f2f2 576.5px,#f0f0f0 585.5px,#ececec 589.5px,#e7e7e7 592.5px,#e1e1e1 594.5px,#dcdcdc 595.5px,#d6d6d6 596.5px,#cfcfcf 597.5px,#c4c4c4 598.5px,#b7b7b7 599.5px,#a5a5a5 600.5px,#8f8f8f 601.5px,#737373 602.5px,#353535 604.5px,#1d1d1d 605.5px,#141414 606.5px,#202020 607.5px,#414141 608.5px,#676767 609.5px,#8a8a8a 610.5px,#a6a6a6 611.5px,#bbbbbb 612.5px,#cacaca 613.5px,#d5d5d5 614.5px,#dddddd 615.5px,#e3e3e3 616.5px,#ebebeb 618.5px,#f1f1f1 621.5px,#f6f6f6 626.5px,#fefefe 630.5px,#ffffff 632.5px,#ffffff 735px)}
.b4{background:linear-gradient(to right,#9e9e9e 0px,#a3a3a3 6.5px,#a6a6a6 44.5px,#b1b1b1 56.5px,#c9c9c9 70.5px,#dedede 86.5px,#eaeaea 109.5px,#e2e2e2 129.5px,#dcdcdc 137.5px,#d9d9d9 140.5px,#d5d5d5 141.5px,#b0b0b0 146.5px,#9f9f9f 148.5px,#999999 149.5px,#8d8d8d 152.5px,#707070 157.5px,#6c6c6c 158.5px,#686868 159.5px,#666666 160.5px,#666666 161.5px,#696969 162.5px,#6d6d6d 163.5px,#8c8c8c 168.5px,#959595 170.5px,#a8a8a8 176.5px,#b5b5b5 182.5px,#c8c8c8 194.5px,#dbdbdb 208.5px,#e5e5e5 232.5px,#e5e5e5 258.5px,#e3e3e3 269.5px,#dedede 275.5px,#d9d9d9 279.5px,#d2d2d2 282.5px,#c7c7c7 285.5px,#bcbcbc 287.5px,#aeaeae 289.5px,#9d9d9d 291.5px,#878787 293.5px,#555555 297.5px,#4b4b4b 298.5px,#434343 299.5px,#3e3e3e 300.5px,#3c3c3c 301.5px,#404040 302.5px,#484848 303.5px,#545454 304.5px,#727272 306.5px,#909090 308.5px,#9d9d9d 309.5px,#a9a9a9 310.5px,#b4b4b4 311.5px,#bdbdbd 312.5px,#cbcbcb 314.5px,#d6d6d6 316.5px,#e0e0e0 319.5px,#e8e8e8 323.5px,#eeeeee 329.5px,#f3f3f3 339.5px,#f6f6f6 366.5px,#f8f8f8 435.5px,#f3f3f3 472.5px,#eeeeee 486.5px,#e8e8e8 495.5px,#e1e1e1 500.5px,#d7d7d7 504.5px,#cdcdcd 507.5px,#c3c3c3 509.5px,#b7b7b7 511.5px,#a7a7a7 513.5px,#939393 515.5px,#7a7a7a 517.5px,#5d5d5d 519.5px,#303030 522.5px,#232323 523.5px,#181818 524.5px,#111111 525.5px,#0d0d0d 526.5px,#0d0d0d 527.5px,#131313 528.5px,#1e1e1e 529.5px,#2c2c2c 530.5px,#505050 532.5px,#737373 534.5px,#838383 535.5px,#929292 536.5px,#9e9e9e 537.5px,#a9a9a9 538.5px,#b3b3b3 539.5px,#c3c3c3 541.5px,#cecece 543.5px,#dadada 546.5px,#e2e2e2 549.5px,#e9e9e9 554.5px,#eeeeee 561.5px,#f2f2f2 574.5px,#f3f3f3 606.5px,#f1f1f1 615.5px,#ededed 619.5px,#e6e6e6 622.5px,#dedede 624.5px,#d8d8d8 625.5px,#d1d1d1 626.5px,#c7c7c7 627.5px,#b9b9b9 628.5px,#a8a8a8 629.5px,#929292 630.5px,#777777 631.5px,#383838 633.5px,#1f1f1f 634.5px,#141414 635.5px,#1e1e1e 636.5px,#3d3d3d 637.5px,#646464 638.5px,#888888 639.5px,#a4a4a4 640.5px,#bababa 641.5px,#cacaca 642.5px,#d5d5d5 643.5px,#dddddd 644.5px,#e3e3e3 645.5px,#ebebeb 647.5px,#f1f1f1 650.5px,#f8f8f8 656.5px,#ffffff 668.5px,#ffffff 735px)}
.b5{background:linear-gradient(to right,#adadad 0px,#a6a6a6 9.5px,#a1a1a1 20.5px,#a5a5a5 52.5px,#aeaeae 67.5px,#b9b9b9 75.5px,#cdcdcd 83.5px,#dddddd 92.5px,#dedede 95.5px,#dedede 135.5px,#dddddd 143.5px,#dadada 144.5px,#c9c9c9 148.5px,#c3c3c3 150.5px,#afafaf 157.5px,#a6a6a6 161.5px,#999999 165.5px,#8e8e8e 168.5px,#898989 170.5px,#888888 172.5px,#8a8a8a 173.5px,#909090 175.5px,#a2a2a2 179.5px,#ababab 182.5px,#b1b1b1 185.5px,#c1c1c1 193.5px,#cecece 206.5px,#dbdbdb 222.5px,#e7e7e7 252.5px,#ededed 274.5px,#ededed 295.5px,#eaeaea 304.5px,#e5e5e5 309.5px,#dfdfdf 312.5px,#d5d5d5 315.5px,#cccccc 317.5px,#bebebe 319.5px,#b5b5b5 320.5px,#aaaaaa 321.5px,#9e9e9e 322.5px,#909090 323.5px,#808080 324.5px,#4d4d4d 327.5px,#3e3e3e 328.5px,#333333 329.5px,#2d2d2d 330.5px,#2d2d2d 331.5px,#363636 332.5px,#454545 333.5px,#595959 334.5px,#828282 336.5px,#959595 337.5px,#a5a5a5 338.5px,#b2b2b2 339.5px,#bdbdbd 340.5px,#c7c7c7 341.5px,#cecece 342.5px,#d9d9d9 344.5px,#e1e1e1 346.5px,#e8e8e8 349.5px,#eeeeee 353.5px,#f3f3f3 361.5px,#f8f8f8 380.5px,#fbfbfb 394.5px,#ffffff 406.5px,#ffffff 510.5px,#ebebeb 544.5px,#e5e5e5 550.5px,#dedede 554.5px,#d7d7d7 557.5px,#cccccc 560.5px,#c2c2c2 562.5px,#b5b5b5 564.5px,#a5a5a5 566.5px,#919191 568.5px,#777777 570.5px,#5a5a5a 572.5px,#2c2c2c 575.5px,#1f1f1f 576.5px,#141414 577.5px,#0c0c0c 578.5px,#080808 579.5px,#080808 580.5px,#0e0e0e 581.5px,#191919 582.5px,#282828 583.5px,#4c4c4c 585.5px,#707070 587.5px,#818181 588.5px,#8f8f8f 589.5px,#9c9c9c 590.5px,#a8a8a8 591.5px,#b2b2b2 592.5px,#c1c1c1 594.5px,#cdcdcd 596.5px,#d6d6d6 598.5px,#dfdfdf 601.5px,#e6e6e6 605.5px,#ececec 611.5px,#f0f0f0 621.5px,#f1f1f1 636.5px,#eeeeee 646.5px,#eaeaea 651.5px,#e4e4e4 654.5px,#dddddd 656.5px,#d3d3d3 658.5px,#cccccc 659.5px,#c3c3c3 660.5px,#b8b8b8 661.5px,#aaaaaa 662.5px,#989898 663.5px,#838383 664.5px,#6a6a6a 665.5px,#323232 667.5px,#1b1b1b 668.5px,#0e0e0e 669.5px,#0e0e0e 670.5px,#212121 671.5px,#404040 672.5px,#626262 673.5px,#818181 674.5px,#9b9b9b 675.5px,#afafaf 676.5px,#bebebe 677.5px,#cacaca 678.5px,#d3d3d3 679.5px,#dadada 680.5px,#e3e3e3 682.5px,#e8e8e8 684.5px,#eeeeee 688.5px,#f2f2f2 695.5px,#f4f4f4 715.5px,#f5f5f5 735px)}
.b6{background:linear-gradient(to right,#d0d0d0 0px,#c1c1c1 12.5px,#b2b2b2 36.5px,#a6a6a6 44.5px,#a1a1a1 56.5px,#a3a3a3 64.5px,#a7a7a7 66.5px,#b8b8b8 73.5px,#cccccc 86.5px,#dedede 109.5px,#e0e0e0 143.5px,#dedede 144.5px,#cdcdcd 149.5px,#cbcbcb 150.5px,#b8b8b8 167.5px,#b2b2b2 171.5px,#a5a5a5 176.5px,#9d9d9d 181.5px,#959595 186.5px,#939393 189.5px,#979797 192.5px,#a3a3a3 198.5px,#a7a7a7 201.5px,#aaaaaa 202.5px,#bdbdbd 207.5px,#bfbfbf 208.5px,#cccccc 226.5px,#d3d3d3 236.5px,#e7e7e7 259.5px,#ededed 267.5px,#f0f0f0 317.5px,#eeeeee 330.5px,#eaeaea 337.5px,#e4e4e4 341.5px,#dcdcdc 344.5px,#d3d3d3 346.5px,#cecece 347.5px,#c7c7c7 348.5px,#bebebe 349.5px,#b4b4b4 350.5px,#a8a8a8 351.5px,#9a9a9a 352.5px,#898989 353.5px,#757575 354.5px,#4a4a4a 356.5px,#353535 357.5px,#252525 358.5px,#1b1b1b 359.5px,#191919 360.5px,#232323 361.5px,#373737 362.5px,#6a6a6a 364.5px,#838383 365.5px,#989898 366.5px,#aaaaaa 367.5px,#b8b8b8 368.5px,#c3c3c3 369.5px,#cdcdcd 370.5px,#d4d4d4 371.5px,#dedede 373.5px,#e5e5e5 375.5px,#ececec 378.5px,#f1f1f1 383.5px,#f7f7f7 397.5px,#fbfbfb 411.5px,#ffffff 415.5px,#ffffff 572.5px,#f4f4f4 581.5px,#f0f0f0 599.5px,#ebebeb 608.5px,#e3e3e3 614.5px,#dbdbdb 618.5px,#d2d2d2 621.5px,#c4c4c4 624.5px,#b8b8b8 626.5px,#a8a8a8 628.5px,#949494 630.5px,#7c7c7c 632.5px,#5f5f5f 634.5px,#313131 637.5px,#232323 638.5px,#171717 639.5px,#0e0e0e 640.5px,#080808 641.5px,#070707 642.5px,#0b0b0b 643.5px,#151515 644.5px,#232323 645.5px,#343434 646.5px,#6b6b6b 649.5px,#7c7c7c 650.5px,#8b8b8b 651.5px,#999999 652.5px,#a5a5a5 653.5px,#afafaf 654.5px,#b8b8b8 655.5px,#c6c6c6 657.5px,#d1d1d1 659.5px,#dbdbdb 662.5px,#e2e2e2 665.5px,#e9e9e9 670.5px,#ededed 677.5px,#ededed 685.5px,#eaeaea 691.5px,#e6e6e6 694.5px,#dedede 697.5px,#d6d6d6 699.5px,#d0d0d0 700.5px,#c8c8c8 701.5px,#bfbfbf 702.5px,#b3b3b3 703.5px,#a5a5a5 704.5px,#929292 705.5px,#7c7c7c 706.5px,#636363 707.5px,#2c2c2c 709.5px,#151515 710.5px,#080808 711.5px,#090909 712.5px,#1b1b1b 713.5px,#393939 714.5px,#5b5b5b 715.5px,#7a7a7a 716.5px,#959595 717.5px,#aaaaaa 718.5px,#bababa 719.5px,#c7c7c7 720.5px,#d0d0d0 721.5px,#d7d7d7 722.5px,#dddddd 723.5px,#e4e4e4 725.5px,#ebebeb 728.5px,#f0f0f0 733.5px,#f0f0f0 735px)}
.b7{background:linear-gradient(to right,#dddddd 0px,#c6c6c6 32.5px,#b3b3b3 67.5px,#ababab 85.5px,#b9b9b9 107.5px,#d4d4d4 133.5px,#e0e0e0 144.5px,#e0e0e0 159.5px,#dedede 160.5px,#cecece 164.5px,#cccccc 165.5px,#c0c0c0 186.5px,#bababa 189.5px,#a9a9a9 196.5px,#a7a7a7 199.5px,#9e9e9e 212.5px,#a0a0a0 214.5px,#b6b6b6 231.5px,#d8d8d8 254.5px,#dbdbdb 257.5px,#ededed 295.5px,#f4f4f4 342.5px,#f2f2f2 356.5px,#ededed 363.5px,#e7e7e7 367.5px,#e2e2e2 369.5px,#dadada 371.5px,#d4d4d4 372.5px,#cdcdcd 373.5px,#c4c4c4 374.5px,#b9b9b9 375.5px,#ababab 376.5px,#999999 377.5px,#848484 378.5px,#6c6c6c 379.5px,#373737 381.5px,#222222 382.5px,#151515 383.5px,#161616 384.5px,#272727 385.5px,#444444 386.5px,#646464 387.5px,#828282 388.5px,#9b9b9b 389.5px,#b0b0b0 390.5px,#bfbfbf 391.5px,#cbcbcb 392.5px,#d4d4d4 393.5px,#dbdbdb 394.5px,#e4e4e4 396.5px,#eaeaea 398.5px,#efefef 401.5px,#f5f5f5 408.5px,#fafafa 425.5px,#fcfcfc 432.5px,#ffffff 437.5px,#ffffff 638.5px,#f0f0f0 651.5px,#ececec 662.5px,#e6e6e6 669.5px,#dedede 674.5px,#d4d4d4 678.5px,#c9c9c9 681.5px,#bfbfbf 683.5px,#b2b2b2 685.5px,#a2a2a2 687.5px,#8f8f8f 689.5px,#777777 691.5px,#5c5c5c 693.5px,#303030 696.5px,#232323 697.5px,#171717 698.5px,#0e0e0e 699.5px,#080808 700.5px,#050505 701.5px,#060606 702.5px,#0c0c0c 703.5px,#171717 704.5px,#252525 705.5px,#474747 707.5px,#696969 709.5px,#797979 710.5px,#878787 711.5px,#949494 712.5px,#a0a0a0 713.5px,#aaaaaa 714.5px,#bbbbbb 716.5px,#c8c8c8 718.5px,#d1d1d1 720.5px,#dbdbdb 723.5px,#e4e4e4 727.5px,#eaeaea 732.5px,#ececec 735px)}
.b8{background:linear-gradient(to right,#dedede 0px,#dedede 23.5px,#e3e3e3 33.5px,#d7d7d7 49.5px,#cbcbcb 62.5px,#b3b3b3 106.5px,#bbbbbb 135.5px,#cccccc 160.5px,#c6c6c6 183.5px,#b7b7b7 211.5px,#a8a8a8 224.5px,#a4a4a4 241.5px,#b2b2b2 256.5px,#cacaca 267.5px,#dadada 274.5px,#dfdfdf 279.5px,#f5f5f5 307.5px,#f4f4f4 365.5px,#f2f2f2 377.5px,#ededed 383.5px,#e8e8e8 386.5px,#e3e3e3 388.5px,#dbdbdb 390.5px,#d6d6d6 391.5px,#cfcfcf 392.5px,#c7c7c7 393.5px,#bcbcbc 394.5px,#aeaeae 395.5px,#9d9d9d 396.5px,#888888 397.5px,#6f6f6f 398.5px,#393939 400.5px,#222222 401.5px,#151515 402.5px,#161616 403.5px,#282828 404.5px,#464646 405.5px,#686868 406.5px,#868686 407.5px,#a0a0a0 408.5px,#b3b3b3 409.5px,#c3c3c3 410.5px,#cecece 411.5px,#d7d7d7 412.5px,#dedede 413.5px,#e7e7e7 415.5px,#eeeeee 418.5px,#f7f7f7 425.5px,#ffffff 435.5px,#ffffff 625.5px,#f7f7f7 653.5px,#f2f2f2 700.5px,#ededed 716.5px,#e7e7e7 725.5px,#e0e0e0 731.5px,#dadada 735px)}
</style></head><body>
<svg width="0" height="0" style="position:absolute"><filter id="jet" color-interpolation-filters="sRGB"><feComponentTransfer><feFuncR type="table" tableValues="0 0 0 0 0.5 1 1 1 0.5"/><feFuncG type="table" tableValues="0 0 0.5 1 1 1 0.5 0 0"/><feFuncB type="table" tableValues="0.5 1 1 1 0.5 0 0 0 0"/></feComponentTransfer></filter></svg>
<div class="pl" style="left:114px;top:44px">
<div class="bd a7" style="top:0px"><div class="ov a8"></div></div>
<div class="bd a6" style="top:46px"><div class="ov a7"></div></div>
<div class="bd a5" style="top:92px"><div class="ov a6"></div></div>
<div class="bd a4" style="top:138px"><div class="ov a5"></div></div>
<div class="bd a3" style="top:184px"><div class="ov a4"></div></div>
<div class="bd a2" style="top:230px"><div class="ov a3"></div></div>
<div class="bd a1" style="top:276px"><div class="ov a2"></div></div>
<div class="bd a0" style="top:322px"><div class="ov a1"></div></div>
</div>
<div class="pl" style="left:109px;top:537px">
<div class="bd b7" style="top:0px"><div class="ov b8"></div></div>
<div class="bd b6" style="top:46px"><div class="ov b7"></div></div>
<div class="bd b5" style="top:92px"><div class="ov b6"></div></div>
<div class="bd b4" style="top:138px"><div class="ov b5"></div></div>
<div class="bd b3" style="top:184px"><div class="ov b4"></div></div>
<div class="bd b2" style="top:230px"><div class="ov b3"></div></div>
<div class="bd b1" style="top:276px"><div class="ov b2"></div></div>
<div class="bd b0" style="top:322px"><div class="ov b1"></div></div>
</div>
<div class="cb" style="left:877px;top:44px"></div><div class="cb" style="left:873px;top:537px"></div>
<svg width="944" height="992" style="position:absolute;left:0;top:0" font-family="Liberation Serif" font-weight="bold">
<text x="121.3" y="34.3" font-size="43.2" fill="#000">(a)</text>
<text x="369.6" y="37.5" font-size="21.15" fill="#dc0012">Analyte – Ag – Si – Graphene – aGST – Si- BK7</text>
<text transform="translate(82.3,423.9) scale(1,1.1)" font-size="31" fill="#262626" text-anchor="middle">20</text>
<text transform="translate(82.3,331.9) scale(1,1.1)" font-size="31" fill="#262626" text-anchor="middle">40</text>
<text transform="translate(82.3,239.9) scale(1,1.1)" font-size="31" fill="#262626" text-anchor="middle">60</text>
<text transform="translate(82.3,147.9) scale(1,1.1)" font-size="31" fill="#262626" text-anchor="middle">80</text>
<text transform="translate(82.3,55.9) scale(1,1.1)" font-size="31" fill="#262626" text-anchor="middle">100</text>
<text transform="translate(114,449.6) scale(1,1.1)" font-size="31" fill="#262626" text-anchor="middle">1.3</text>
<text transform="translate(236.5,449.6) scale(1,1.1)" font-size="31" fill="#262626" text-anchor="middle">1.5</text>
<text transform="translate(359,449.6) scale(1,1.1)" font-size="31" fill="#262626" text-anchor="middle">1.7</text>
<text transform="translate(481.5,449.6) scale(1,1.1)" font-size="31" fill="#262626" text-anchor="middle">1.9</text>
<text transform="translate(604,449.6) scale(1,1.1)" font-size="31" fill="#262626" text-anchor="middle">2.1</text>
<text transform="translate(726.5,449.6) scale(1,1.1)" font-size="31" fill="#262626" text-anchor="middle">2.3</text>
<text transform="translate(849,449.6) scale(1,1.1)" font-size="31" fill="#262626" text-anchor="middle">2.5</text>
<text x="355" y="489.3" font-size="35.3" fill="#262626">Wavelength(<tspan font-style="italic" font-weight="normal">μ</tspan>m)</text>
<text transform="translate(42,252.3) rotate(-90)" font-size="39.8" fill="#262626" text-anchor="middle">hSi(nm)</text>
<rect x="877.2" y="44.2" width="17.6" height="367.6" fill="none" stroke="#262626" stroke-opacity="0.75" stroke-width="1"/>
<line x1="891.2" x2="895" y1="338.4" y2="338.4" stroke="#262626" stroke-width="1.2"/>
<text transform="translate(903.5,348.7) scale(1,1.04)" font-size="28.5" fill="#262626">0.2</text>
<line x1="891.2" x2="895" y1="264.8" y2="264.8" stroke="#262626" stroke-width="1.2"/>
<text transform="translate(903.5,275.1) scale(1,1.04)" font-size="28.5" fill="#262626">0.4</text>
<line x1="891.2" x2="895" y1="191.2" y2="191.2" stroke="#262626" stroke-width="1.2"/>
<text transform="translate(903.5,201.5) scale(1,1.04)" font-size="28.5" fill="#262626">0.6</text>
<line x1="891.2" x2="895" y1="117.6" y2="117.6" stroke="#262626" stroke-width="1.2"/>
<text transform="translate(903.5,127.9) scale(1,1.04)" font-size="28.5" fill="#262626">0.8</text>
<text x="120.6" y="527.3" font-size="43.2" fill="#000">(b)</text>
<text x="369.9" y="531" font-size="21.15" fill="#dc0012">Analyte – Ag – Si – Graphene – cGST – Si- BK7</text>
<text transform="translate(77.3,916.9) scale(1,1.1)" font-size="31" fill="#262626" text-anchor="middle">20</text>
<text transform="translate(77.3,824.9) scale(1,1.1)" font-size="31" fill="#262626" text-anchor="middle">40</text>
<text transform="translate(77.3,732.9) scale(1,1.1)" font-size="31" fill="#262626" text-anchor="middle">60</text>
<text transform="translate(77.3,640.9) scale(1,1.1)" font-size="31" fill="#262626" text-anchor="middle">80</text>
<text transform="translate(77.3,548.9) scale(1,1.1)" font-size="31" fill="#262626" text-anchor="middle">100</text>
<text transform="translate(109,942.6) scale(1,1.1)" font-size="31" fill="#262626" text-anchor="middle">1.3</text>
<text transform="translate(231.5,942.6) scale(1,1.1)" font-size="31" fill="#262626" text-anchor="middle">1.5</text>
<text transform="translate(354,942.6) scale(1,1.1)" font-size="31" fill="#262626" text-anchor="middle">1.7</text>
<text transform="translate(476.5,942.6) scale(1,1.1)" font-size="31" fill="#262626" text-anchor="middle">1.9</text>
<text transform="translate(599,942.6) scale(1,1.1)" font-size="31" fill="#262626" text-anchor="middle">2.1</text>
<text transform="translate(721.5,942.6) scale(1,1.1)" font-size="31" fill="#262626" text-anchor="middle">2.3</text>
<text transform="translate(844,942.6) scale(1,1.1)" font-size="31" fill="#262626" text-anchor="middle">2.5</text>
<text x="352" y="982.7" font-size="35.3" fill="#262626">Wavelength(<tspan font-style="italic" font-weight="normal">μ</tspan>m)</text>
<text transform="translate(36.3,705.4) rotate(-90)" font-size="39.8" fill="#262626" text-anchor="middle">hSi(nm)</text>
<rect x="873.2" y="537.2" width="17.6" height="367.6" fill="none" stroke="#262626" stroke-opacity="0.75" stroke-width="1"/>
<line x1="887.2" x2="891" y1="831.4" y2="831.4" stroke="#262626" stroke-width="1.2"/>
<text transform="translate(898.2,841.7) scale(1,1.04)" font-size="28.5" fill="#262626">0.2</text>
<line x1="887.2" x2="891" y1="757.8" y2="757.8" stroke="#262626" stroke-width="1.2"/>
<text transform="translate(898.2,768.1) scale(1,1.04)" font-size="28.5" fill="#262626">0.4</text>
<line x1="887.2" x2="891" y1="684.2" y2="684.2" stroke="#262626" stroke-width="1.2"/>
<text transform="translate(898.2,694.5) scale(1,1.04)" font-size="28.5" fill="#262626">0.6</text>
<line x1="887.2" x2="891" y1="610.6" y2="610.6" stroke="#262626" stroke-width="1.2"/>
<text transform="translate(898.2,620.9) scale(1,1.04)" font-size="28.5" fill="#262626">0.8</text>
</svg>
</body></html>
